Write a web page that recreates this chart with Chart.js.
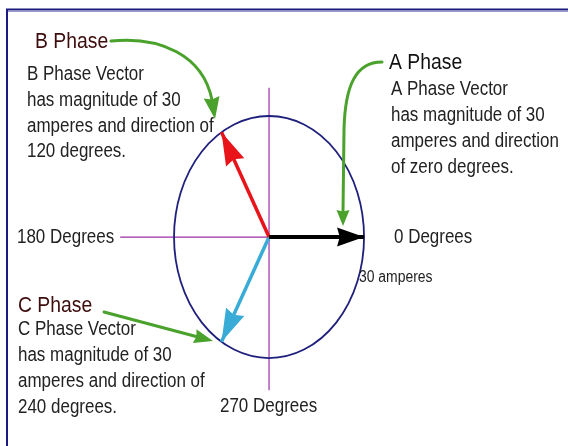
<!DOCTYPE html>
<html lang="en">
<head>
    <meta charset="UTF-8">
    <title>Three Phase Vectors</title>
    <script src="https://cdn.jsdelivr.net/npm/chart.js"></script>
    <style>
        html, body { margin: 0; padding: 0; background: #fff; }
        #phasor { display: block; }
    </style>
</head>
<body>
    <canvas id="phasor" width="568" height="446"></canvas>

    <script>
        // phasor data
        const phaseNames = ['A Phase', 'B Phase', 'C Phase'];
        const magnitudes = [30, 30, 30];          // amperes
        const angles = [0, 120, 240];             // degrees
        const phaseColors = ['#000000', '#e8141a', '#38acd6'];
        const phaseWidths = [4, 3.5, 3.5];

        const degreeLabels = ['0 Degrees', '180 Degrees', '270 Degrees'];
        const magnitudeLabel = '30 amperes';

        const titleColors = ['#111111', '#3d0c0c', '#3d0c0c'];
        const descriptions = [
            ['A Phase Vector', 'has magnitude of 30', 'amperes and direction', 'of zero degrees.'],
            ['B Phase Vector', 'has magnitude of 30', 'amperes and direction of', '120 degrees.'],
            ['C Phase Vector', 'has magnitude of 30', 'amperes and direction of', '240 degrees.']
        ];

        const FONT = '"Liberation Sans", Arial, sans-serif';

        // polar -> cartesian for each vector
        function tipOf(i) {
            const r = angles[i] * Math.PI / 180;
            return { x: magnitudes[i] * Math.cos(r), y: magnitudes[i] * Math.sin(r) };
        }

        const datasets = phaseNames.map((name, i) => ({
            label: name,
            data: [{ x: 0, y: 0 }, tipOf(i)],
            showLine: true,
            borderColor: phaseColors[i],
            backgroundColor: phaseColors[i],
            borderWidth: phaseWidths[i],
            borderCapStyle: 'butt',
            pointRadius: 0
        }));

        function arrowHead(ctx, x, y, ang, len, half, color) {
            ctx.save();
            ctx.translate(x, y);
            ctx.rotate(ang);
            ctx.fillStyle = color;
            ctx.beginPath();
            ctx.moveTo(0, 0);
            ctx.lineTo(-len, -half);
            ctx.lineTo(-len * 0.9, 0);
            ctx.lineTo(-len, half);
            ctx.closePath();
            ctx.fill();
            ctx.restore();
        }

        // narrow, tall text like the original drawing
        function label(ctx, text, x, y, size, sx) {
            ctx.save();
            ctx.translate(x, y);
            ctx.scale(sx, 1);
            ctx.font = size + 'px ' + FONT;
            ctx.fillText(text, 0, 0);
            ctx.restore();
        }

        const decor = {
            id: 'decor',
            beforeDatasetsDraw(chart) {
                const ctx = chart.ctx;
                const xs = chart.scales.x, ys = chart.scales.y;
                const cx = xs.getPixelForValue(0), cy = ys.getPixelForValue(0);
                const rx = xs.getPixelForValue(magnitudes[0]) - cx;
                const ry = cy - ys.getPixelForValue(magnitudes[0]);

                // guide lines
                ctx.save();
                ctx.strokeStyle = '#9b30a8';
                ctx.lineWidth = 1.2;
                ctx.beginPath();
                ctx.moveTo(cx, ys.getPixelForValue(37));
                ctx.lineTo(cx, ys.getPixelForValue(-38));
                ctx.moveTo(xs.getPixelForValue(-47), cy);
                ctx.lineTo(cx, cy);
                ctx.stroke();

                // 30 A circle (ellipse because axes are scaled differently)
                ctx.strokeStyle = '#1f1f7c';
                ctx.lineWidth = 1.8;
                ctx.beginPath();
                ctx.ellipse(cx, cy, rx, ry, 0, 0, Math.PI * 2);
                ctx.stroke();
                ctx.restore();
            },
            afterDatasetsDraw(chart) {
                const ctx = chart.ctx;
                phaseNames.forEach((n, i) => {
                    const pts = chart.getDatasetMeta(i).data;
                    const a = Math.atan2(pts[1].y - pts[0].y, pts[1].x - pts[0].x);
                    const len = i === 0 ? 27 : 33;
                    const half = i === 0 ? 9.5 : 10;
                    arrowHead(ctx, pts[1].x, pts[1].y, a, len, half, phaseColors[i]);
                });
            },
            afterDraw(chart) {
                const ctx = chart.ctx;
                ctx.save();

                // frame
                ctx.strokeStyle = '#9a9ad0';
                ctx.lineWidth = 1;
                ctx.beginPath();
                ctx.moveTo(8, 11.5); ctx.lineTo(568, 11.5);
                ctx.stroke();
                ctx.strokeStyle = '#1a1a80';
                ctx.lineWidth = 2;
                ctx.beginPath();
                ctx.moveTo(7, 446); ctx.lineTo(7, 9.5); ctx.lineTo(568, 9.5);
                ctx.stroke();

                // green callouts
                ctx.strokeStyle = '#4aa22c';
                ctx.fillStyle = '#4aa22c';
                ctx.lineWidth = 3;
                ctx.lineCap = 'round';
                ctx.beginPath();
                ctx.moveTo(111, 41);
                ctx.bezierCurveTo(160, 36, 203, 55, 212, 100);
                ctx.stroke();
                arrowHead(ctx, 215, 119, Math.atan2(19, 3), 22, 8, '#4aa22c');

                ctx.beginPath();
                ctx.moveTo(382, 62);
                ctx.bezierCurveTo(356, 62, 345, 85, 344, 130);
                ctx.lineTo(343, 212);
                ctx.stroke();
                arrowHead(ctx, 343, 226, Math.PI / 2, 16, 6.5, '#4aa22c');

                ctx.beginPath();
                ctx.moveTo(104, 312);
                ctx.lineTo(198, 337);
                ctx.stroke();
                arrowHead(ctx, 213, 341, Math.atan2(29, 109), 19, 7, '#4aa22c');

                // titles and descriptions
                ctx.textBaseline = 'middle';
                const blocks = [
                    { tx: 389, ty: 63, x: 391, y0: 90, dy: 26 },
                    { tx: 35, ty: 42, x: 27, y0: 75, dy: 25.7 },
                    { tx: 18, ty: 306, x: 18, y0: 330, dy: 26 }
                ];
                blocks.forEach((b, i) => {
                    ctx.fillStyle = titleColors[i];
                    label(ctx, phaseNames[i], b.tx, b.ty, 22, 0.88);
                    ctx.fillStyle = '#222';
                    descriptions[i].forEach((line, k) => {
                        label(ctx, line, b.x, b.y0 + k * b.dy, 19.5, 0.87);
                    });
                });

                // degree labels
                ctx.fillStyle = '#222';
                label(ctx, degreeLabels[0], 394, 238, 19.5, 0.87);
                label(ctx, degreeLabels[1], 17, 238, 19.5, 0.87);
                label(ctx, degreeLabels[2], 220, 407, 19.5, 0.87);
                label(ctx, magnitudeLabel, 359, 278, 16, 0.87);
                ctx.restore();
            }
        };

        new Chart(document.getElementById('phasor'), {
            type: 'scatter',
            data: { datasets: datasets },
            options: {
                responsive: false,
                animation: false,
                devicePixelRatio: 1,
                layout: { padding: 0 },
                plugins: { legend: { display: false }, tooltip: { enabled: false } },
                scales: {
                    x: { type: 'linear', display: false, min: -84.95, max: 94.4 },
                    y: { type: 'linear', display: false, min: -51.8, max: 58.76 }
                }
            },
            plugins: [decor]
        });
    </script>
</body>
</html>
